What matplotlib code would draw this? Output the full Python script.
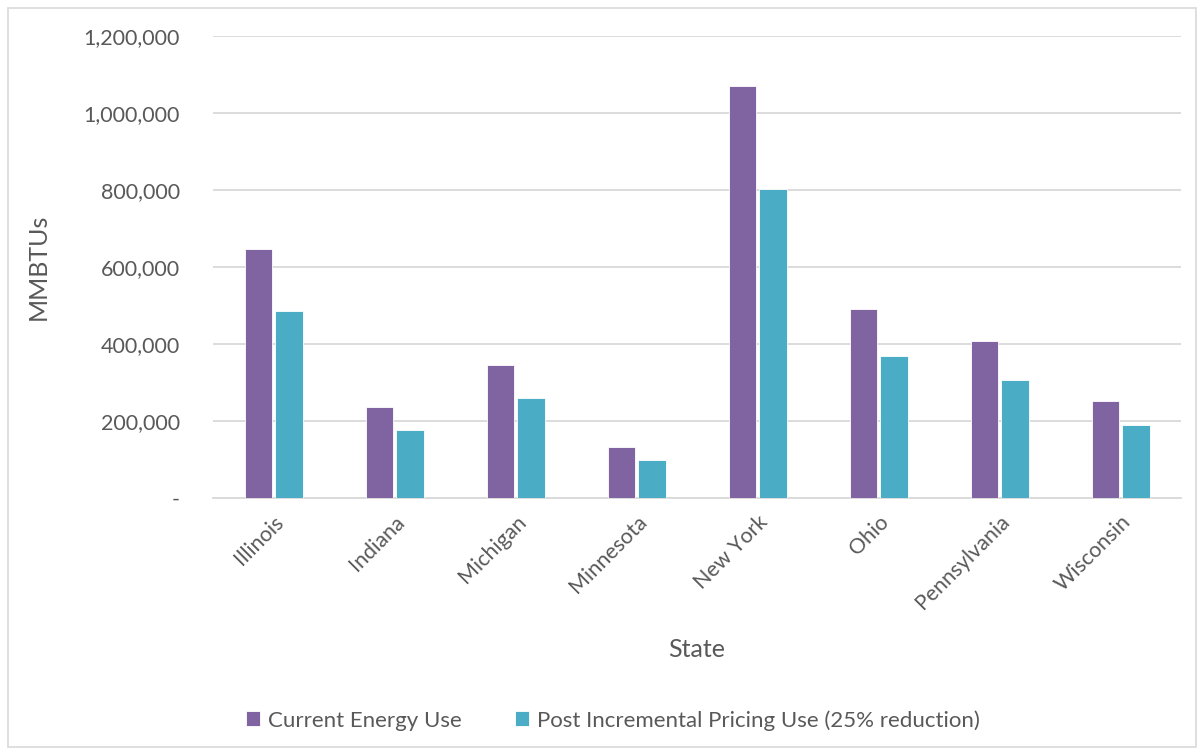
import matplotlib.pyplot as plt
import numpy as np
from matplotlib.patches import Rectangle

plt.rcParams['font.family'] = ['Lato', 'DejaVu Sans']

states = ['Illinois', 'Indiana', 'Michigan', 'Minnesota', 'New York',
          'Ohio', 'Pennsylvania', 'Wisconsin']
current_use = [646000, 236000, 345000, 132000, 1070000, 491000, 408000, 252000]
post_pricing_use = [485000, 177000, 259000, 99000, 802000, 368000, 306000, 190000]
series_names = ['Current Energy Use', 'Post Incremental Pricing Use (25% reduction)']
yticks = [0, 200000, 400000, 600000, 800000, 1000000, 1200000]

purple = '#8064A2'
teal = '#4BACC6'
text_grey = '#595959'

fig = plt.figure(figsize=(12.04, 7.51), dpi=100)
ax = fig.add_axes([0.177, 0.337, 0.804, 0.615])

x = np.arange(len(states))
w = 0.225
gap = 0.03
ax.bar(x - (w + gap) / 2, current_use, w, color=purple, label=series_names[0],
       edgecolor='white', linewidth=0.6, zorder=3)
ax.bar(x + (w + gap) / 2, post_pricing_use, w, color=teal, label=series_names[1],
       edgecolor='white', linewidth=0.6, zorder=3)

ax.set_xlim(-0.5, len(states) - 0.5)
ax.set_ylim(0, 1200000)
ax.set_yticks(yticks)
ax.set_yticklabels(['-' if v == 0 else f'{v:,}' for v in yticks],
                   fontsize=15.5, color=text_grey)
ax.yaxis.grid(True, color='#D9D9D9', linewidth=1.3, zorder=0)
ax.set_axisbelow(True)
ax.tick_params(length=0, pad=24)
ax.tick_params(axis='x', pad=10)

ax.set_xticks(x)
ax.set_xticklabels(states, rotation=45, ha='right', rotation_mode='anchor',
                   fontsize=15.5, color=text_grey)

for side in ['top', 'right', 'left']:
    ax.spines[side].set_visible(False)
ax.spines['bottom'].set_color('#D9D9D9')
ax.spines['bottom'].set_linewidth(1.3)

ax.set_ylabel('MMBTUs', fontsize=18, color=text_grey, labelpad=24)
ax.set_xlabel('State', fontsize=18, color=text_grey, labelpad=18)

fig.legend(loc='center', bbox_to_anchor=(0.509, 0.041), ncol=2, frameon=False,
           fontsize=16, labelcolor=text_grey, handlelength=0.65, handleheight=0.65,
           handletextpad=0.35, columnspacing=2.4)

# light frame around the whole chart area
fig.patches.append(Rectangle((0.007, 0.005), 0.986, 0.985, transform=fig.transFigure,
                             fill=False, edgecolor='#D9D9D9', linewidth=1.2))

fig.savefig('out.png', dpi=100)
